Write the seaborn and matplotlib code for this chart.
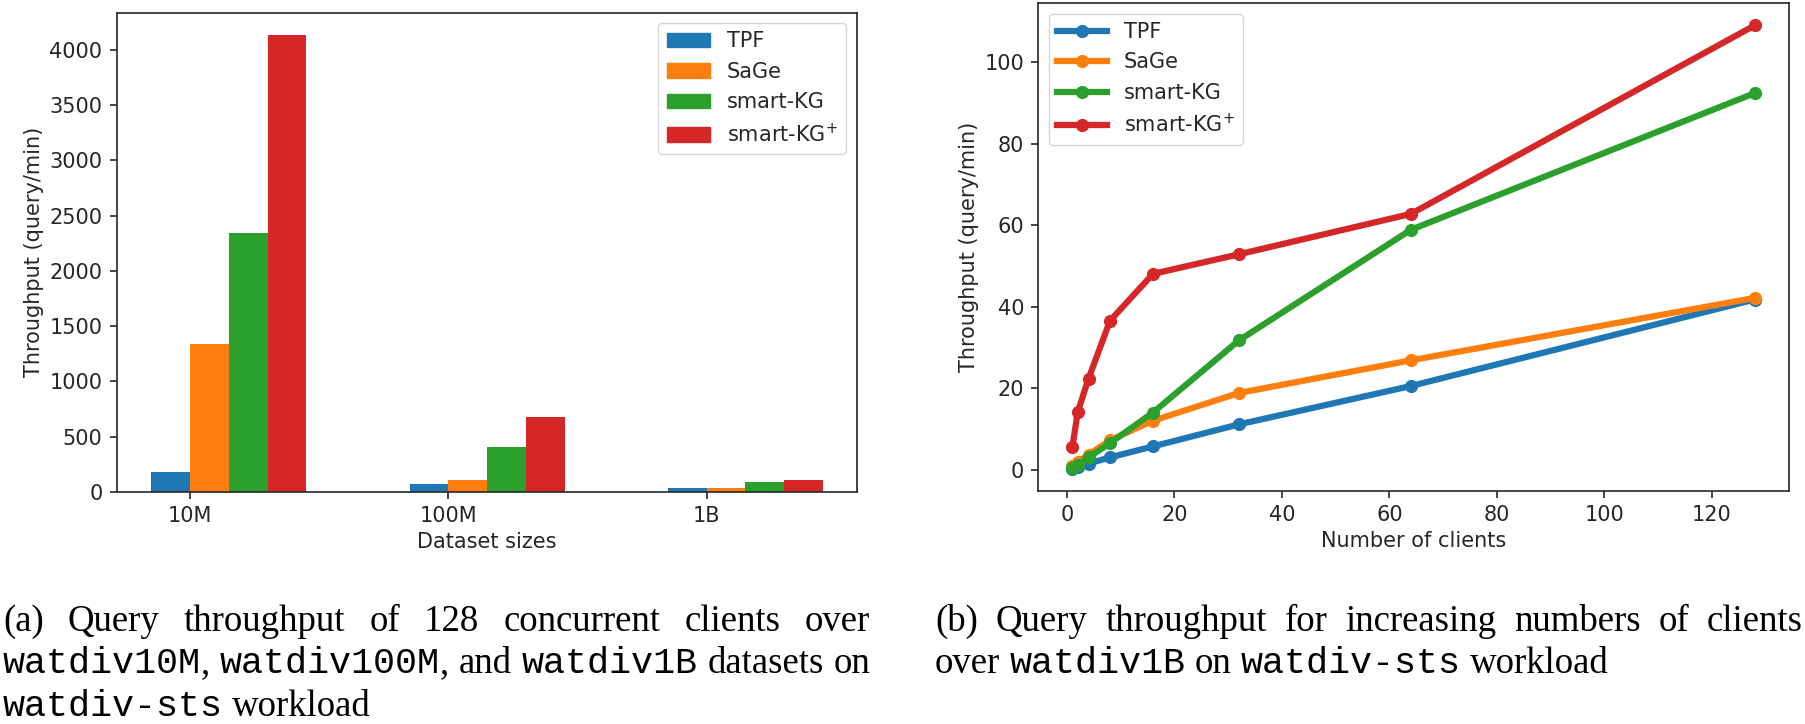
import matplotlib
matplotlib.use("Agg")
import matplotlib.pyplot as plt
import matplotlib.patches as mpatches
import matplotlib.lines as mlines
import seaborn as sns
import pandas as pd

# ---------------- data ----------------
systems = ["TPF", "SaGe", "smart-KG", "smart-KG$^{+}$"]
colors = ["#1f77b4", "#ff7f0e", "#2ca02c", "#d62728"]

sizes = ["10M", "100M", "1B"]
tpf_bar = [180, 70, 40]
sage_bar = [1341, 110, 40]
skg_bar = [2346, 407, 92]
skgp_bar = [4132, 678, 108]

clients = [1, 2, 4, 8, 16, 32, 64, 128]
tpf_line = [0.3, 0.7, 1.6, 3.1, 5.8, 11.2, 20.6, 41.8]
sage_line = [1.0, 2.0, 3.8, 7.3, 12.1, 18.9, 26.9, 42.2]
skg_line = [0.4, 1.2, 3.1, 6.6, 14.1, 31.8, 58.9, 92.4]
skgp_line = [5.7, 14.3, 22.4, 36.6, 48.1, 52.9, 62.8, 109.0]

bar_df = pd.DataFrame({
    "size": sizes * 4,
    "system": sum([[s] * len(sizes) for s in systems], []),
    "throughput": tpf_bar + sage_bar + skg_bar + skgp_bar,
})
line_df = pd.DataFrame({
    "clients": clients * 4,
    "system": sum([[s] * len(clients) for s in systems], []),
    "throughput": tpf_line + sage_line + skg_line + skgp_line,
})

# ---------------- style ----------------
plt.rcParams.update({
    "font.family": ["DejaVu Sans"],
    "font.size": 15,
    "axes.linewidth": 1.2,
    "xtick.major.width": 1.2,
    "ytick.major.width": 1.2,
    "xtick.major.size": 5.25,
    "ytick.major.size": 5.25,
    "xtick.major.pad": 5,
    "ytick.major.pad": 5,
    "xtick.labelsize": 15,
    "ytick.labelsize": 15,
    "axes.labelsize": 15,
    "legend.fontsize": 15,
    "text.color": "#262626",
    "axes.labelcolor": "#262626",
    "xtick.color": "#262626",
    "ytick.color": "#262626",
    "axes.edgecolor": "#262626",
})

W, H = 1805, 724
fig = plt.figure(figsize=(W / 100, H / 100), dpi=100)

ax1 = fig.add_axes([116.7 / W, 1 - 492 / H, 740 / W, 479.5 / H])
ax2 = fig.add_axes([1038.3 / W, 1 - 491 / H, 750.4 / W, 487.7 / H])

# ---------------- (a) bar chart ----------------
sns.barplot(data=bar_df, x="size", y="throughput", hue="system",
            hue_order=systems, order=sizes, palette=colors, saturation=1,
            width=0.6, errorbar=None, linewidth=0, legend=False, ax=ax1)
ax1.set_xticks([i - 0.15 for i in range(len(sizes))])
ax1.set_xticklabels(sizes)
ax1.set_xlim(-0.434, 2.431)
ax1.set_ylim(0, max(skgp_bar) * 1.05)
ax1.set_xlabel("Dataset sizes")
ax1.set_ylabel("Throughput (query/min)")
bar_handles = [mpatches.Patch(color=c, label=s) for c, s in zip(colors, systems)]
ax1.legend(handles=bar_handles, loc="upper right", handlelength=2.1)

# ---------------- (b) line chart ----------------
sns.lineplot(data=line_df, x="clients", y="throughput", hue="system",
             hue_order=systems, palette=colors, marker="o", markersize=9.5,
             markeredgewidth=0, linewidth=4.5, errorbar=None, legend=False,
             ax=ax2)
ax2.set_xlabel("Number of clients")
ax2.set_ylabel("Throughput (query/min)")
line_handles = [mlines.Line2D([], [], color=c, lw=4.5, marker="o",
                              markersize=9.5, markeredgewidth=0, label=s)
                for c, s in zip(colors, systems)]
ax2.legend(handles=line_handles, loc="upper left", handlelength=2.4)

for ax in (ax1, ax2):
    for sp in ax.spines.values():
        sp.set_visible(True)

# ---------------- captions ----------------
SERIF = "Liberation Serif"
MONO = "Liberation Mono"
CAP_SIZE = 26.5
renderer = fig.canvas.get_renderer()


def measure(txt, fam):
    t = fig.text(0, 0, txt, fontsize=CAP_SIZE, family=fam)
    w = t.get_window_extent(renderer).width
    t.remove()
    return w


space_w = measure("a a", SERIF) - measure("aa", SERIF)


def draw_line(words, x0, x1, y_base, justify):
    widths = [[measure(t, f) for t, f in word] for word in words]
    total = sum(sum(w) for w in widths)
    if justify and len(words) > 1:
        gap = (x1 - x0 - total) / (len(words) - 1)
    else:
        gap = space_w
    x = x0
    for word, ws in zip(words, widths):
        for (t, f), w in zip(word, ws):
            fig.text(x / W, 1 - y_base / H, t, fontsize=CAP_SIZE, family=f,
                     ha="left", va="baseline", color="black")
            x += w
        x += gap


def S(t):
    return (t, SERIF)


def M(t):
    return (t, MONO)


line_a1 = [[S(w)] for w in "(a) Query throughput of 128 concurrent clients over".split()]
line_a2 = [[M("watdiv10M"), S(",")], [M("watdiv100M"), S(",")], [S("and")],
           [M("watdiv1B")], [S("datasets")], [S("on")]]
line_a3 = [[M("watdiv-sts")], [S("workload")]]
draw_line(line_a1, 3, 870, 631, True)
draw_line(line_a2, 3, 870, 673, True)
draw_line(line_a3, 3, 870, 716, False)

line_b1 = [[S(w)] for w in "(b) Query throughput for increasing numbers of clients".split()]
line_b2 = [[S("over")], [M("watdiv1B")], [S("on")], [M("watdiv-sts")], [S("workload")]]
draw_line(line_b1, 935, 1803, 631, True)
draw_line(line_b2, 935, 1803, 673, False)

fig.savefig("out.png", dpi=100)
